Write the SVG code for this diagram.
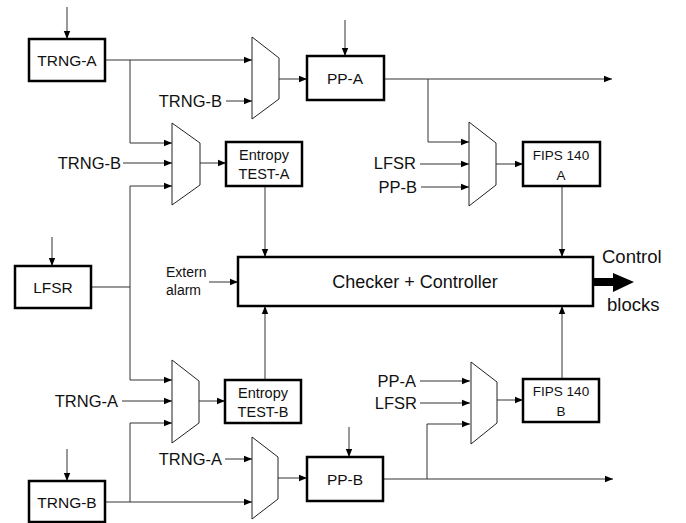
<svg xmlns="http://www.w3.org/2000/svg" width="686" height="523" viewBox="0 0 686 523">
<defs>
<marker id="ah" markerUnits="userSpaceOnUse" markerWidth="9" markerHeight="8" refX="8" refY="4" orient="auto">
<path d="M0,0.8 L8,4 L0,7.2 Z" fill="#000"/>
</marker>
<style>
.box{fill:#fff;stroke:#000;stroke-width:2.5}
.mux{fill:#fff;stroke:#222;stroke-width:1}
.w{fill:none;stroke:#333;stroke-width:1}
.a{fill:none;stroke:#333;stroke-width:1;marker-end:url(#ah)}
text{font-family:"Liberation Sans",Arial,sans-serif;fill:#111;dominant-baseline:central}
.bl{font-size:15.5px;text-anchor:middle}
.sm{font-size:13.5px;text-anchor:middle}
.en{font-size:14.5px;text-anchor:middle}
.lb{font-size:16.5px;text-anchor:end}
</style>
</defs>
<rect width="686" height="523" fill="#fff"/>
<g id="connectors">
<line class="a" x1="67" y1="7" x2="67" y2="39"/>
<line class="a" x1="105" y1="60" x2="252" y2="60"/>
<polyline class="a" points="130,60 130,143 172,143"/>
<line class="a" x1="226" y1="101" x2="252" y2="101"/>
<line class="a" x1="279" y1="79" x2="307" y2="79"/>
<line class="a" x1="345" y1="20" x2="345" y2="56"/>
<line class="a" x1="384" y1="79" x2="612" y2="79"/>
<polyline class="a" points="428,79 428,142 469,142"/>
<line class="a" x1="420" y1="164" x2="469" y2="164"/>
<line class="a" x1="421" y1="187" x2="469" y2="187"/>
<line class="a" x1="496" y1="164" x2="523" y2="164"/>
<line class="a" x1="562" y1="186" x2="562" y2="257"/>
<line class="a" x1="123" y1="163" x2="172" y2="163"/>
<line class="a" x1="200" y1="163" x2="226" y2="163"/>
<line class="a" x1="265" y1="186" x2="265" y2="257"/>
<line class="w" x1="91" y1="287" x2="130" y2="287"/>
<polyline class="a" points="130,186 130,380 172,380"/>
<line class="a" x1="130" y1="186" x2="172" y2="186"/>
<line class="a" x1="52" y1="237" x2="52" y2="266"/>
<line class="a" x1="209" y1="282" x2="238" y2="282"/>
<line class="a" x1="122" y1="401" x2="172" y2="401"/>
<polyline class="a" points="130,502 130,423 172,423"/>
<line class="a" x1="199" y1="401" x2="225" y2="401"/>
<line class="a" x1="265" y1="380" x2="265" y2="306"/>
<line class="a" x1="67" y1="449" x2="67" y2="481"/>
<line class="a" x1="105" y1="502" x2="252" y2="502"/>
<line class="a" x1="225" y1="459" x2="252" y2="459"/>
<line class="a" x1="278" y1="478" x2="307" y2="478"/>
<line class="a" x1="349" y1="427" x2="349" y2="457"/>
<line class="a" x1="383" y1="479" x2="613" y2="479"/>
<polyline class="a" points="427,479 427,424 470,424"/>
<line class="a" x1="420" y1="381" x2="470" y2="381"/>
<line class="a" x1="420" y1="403" x2="470" y2="403"/>
<line class="a" x1="497" y1="400" x2="523" y2="400"/>
<line class="a" x1="562" y1="379" x2="562" y2="306"/>
<path d="M593,278 H613 V273 L634,282 L613,292 V286 H593 Z" fill="#000"/>
</g>
<g id="trng-a"><rect class="box" x="29" y="39" width="76" height="42"/><text class="bl" x="67" y="60">TRNG-A</text></g>
<g id="mux-ppa"><polygon class="mux" points="252,37 279,58 279,99 252,119"/></g>
<g id="pp-a"><rect class="box" x="307" y="56" width="77" height="44"/><text class="bl" x="345" y="78">PP-A</text></g>
<g id="mux-fipsa"><polygon class="mux" points="469,122 496,143 496,185 469,206"/></g>
<g id="fips-a"><rect class="box" x="523" y="142" width="77" height="44"/><text class="sm" x="561" y="155">FIPS 140</text><text class="sm" x="561" y="175">A</text></g>
<g id="mux-enta"><polygon class="mux" points="172,123 200,143 200,185 172,205"/></g>
<g id="entropy-a"><rect class="box" x="226" y="142" width="76" height="44"/><text class="en" x="264" y="155">Entropy</text><text class="en" x="264" y="174">TEST-A</text></g>
<g id="lfsr"><rect class="box" x="15" y="266" width="76" height="42"/><text class="bl" x="53" y="287">LFSR</text></g>
<g id="checker"><rect class="box" x="238" y="257" width="355" height="49"/><text x="415" y="282" style="font-size:18px;text-anchor:middle">Checker + Controller</text></g>
<g id="mux-entb"><polygon class="mux" points="172,360 199,381 199,423 172,443"/></g>
<g id="entropy-b"><rect class="box" x="225" y="380" width="76" height="43"/><text class="en" x="263" y="393">Entropy</text><text class="en" x="263" y="412">TEST-B</text></g>
<g id="trng-b"><rect class="box" x="29" y="481" width="76" height="41"/><text class="bl" x="67" y="502">TRNG-B</text></g>
<g id="mux-ppb"><polygon class="mux" points="252,437 278,457 278,499 252,519"/></g>
<g id="pp-b"><rect class="box" x="307" y="457" width="76" height="44"/><text class="bl" x="345" y="479">PP-B</text></g>
<g id="mux-fipsb"><polygon class="mux" points="471,362 497,382 497,423 471,444"/></g>
<g id="fips-b"><rect class="box" x="523" y="379" width="76" height="43"/><text class="sm" x="561" y="391">FIPS 140</text><text class="sm" x="561" y="411">B</text></g>
<g id="labels">
<text class="lb" x="222" y="101">TRNG-B</text>
<text class="lb" x="121" y="163">TRNG-B</text>
<text class="lb" x="416" y="163">LFSR</text>
<text class="lb" x="417" y="187">PP-B</text>
<text class="lb" x="118" y="401">TRNG-A</text>
<text class="lb" x="222" y="459">TRNG-A</text>
<text class="lb" x="416" y="381">PP-A</text>
<text class="lb" x="417" y="403">LFSR</text>
<text x="166" y="272" style="font-size:14px">Extern</text>
<text x="166" y="290" style="font-size:14px">alarm</text>
<text x="602" y="256" style="font-size:18.5px">Control</text>
<text x="607" y="304" style="font-size:18.5px">blocks</text>
</g>
</svg>
